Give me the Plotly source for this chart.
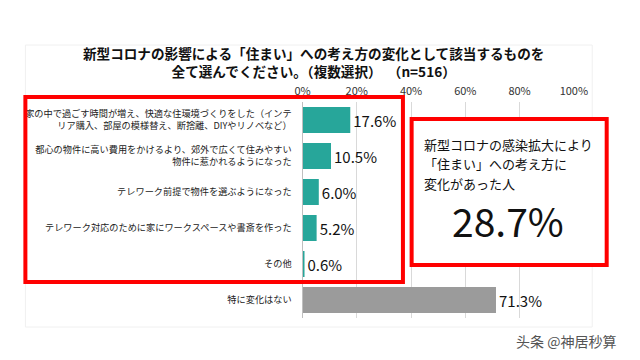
import plotly.graph_objects as go

categories = [
    "家の中で過ごす時間が増え、快適な住環境づくりをした（インテ<br>リア購入、部屋の模様替え、断捨離、DIYやリノベなど）",
    "都心の物件に高い費用をかけるより、郊外で広くて住みやすい<br>物件に惹かれるようになった",
    "テレワーク前提で物件を選ぶようになった",
    "テレワーク対応のために家にワークスペースや書斎を作った",
    "その他",
    "特に変化はない",
]
values = [17.6, 10.5, 6.0, 5.2, 0.6, 71.3]
bar_colors = ["#27A69A", "#27A69A", "#27A69A", "#27A69A", "#27A69A", "#9B9B9B"]
tick_vals = [0, 20, 40, 60, 80, 100]
tick_text = ["0%", "20%", "40%", "60%", "80%", "100%"]

title_text = "新型コロナの影響による「住まい」への考え方の変化として該当するものを<br>全て選んでください。（複数選択）  （n=516）"
box_lines = ["新型コロナの感染拡大により", "「住まい」への考え方に", "変化があった人"]
big_value = "28.7%"
watermark = "头条 @神居秒算"

W, H = 640, 360
def px(x):
    return x / W
def py(y):
    return 1 - y / H

FONT = "Noto Sans CJK JP"

fig = go.Figure()
fig.add_trace(go.Bar(
    x=values,
    y=list(range(len(categories))),
    orientation="h",
    marker=dict(color=bar_colors, line=dict(width=0)),
    text=[f"{v:.1f}%" for v in values],
    textposition="outside",
    textfont=dict(size=15, color="#111111", family=FONT),
    cliponaxis=False,
    hoverinfo="skip",
))

fig.update_layout(
    width=W, height=H,
    margin=dict(l=0, r=0, t=0, b=0),
    paper_bgcolor="white",
    plot_bgcolor="white",
    showlegend=False,
    bargap=0.28,
    font=dict(family=FONT, color="#222222"),
    xaxis=dict(
        domain=[px(305), px(586)],
        range=[0, 100],
        side="top",
        tickvals=tick_vals,
        ticktext=tick_text,
        tickfont=dict(size=11, color="#333333"),
        ticklabelstandoff=4,
        showgrid=True,
        gridcolor="#D9D9D9",
        gridwidth=1,
        zeroline=False,
        showline=False,
        fixedrange=True,
    ),
    yaxis=dict(
        domain=[py(318), py(102)],
        range=[5.5, -0.5],
        tickvals=list(range(len(categories))),
        ticktext=categories,
        tickfont=dict(size=9.2, color="#222222"),
        showgrid=False,
        zeroline=False,
        showline=True,
        linecolor="#BFBFBF",
        linewidth=1,
        ticks="",
        ticklabelstandoff=8,
        fixedrange=True,
    ),
)

# faint chart frame
fig.add_shape(type="rect", xref="paper", yref="paper",
              x0=px(18), x1=px(605), y0=py(327), y1=py(45),
              line=dict(color="#F0F0F0", width=1), layer="below")

fig.add_annotation(
    x=px(316), y=py(62), xref="paper", yref="paper",
    text="<b>" + title_text + "</b>",
    showarrow=False, xanchor="center", yanchor="middle",
    font=dict(size=13.6, color="#111111", family=FONT),
    align="center",
)

# red highlight boxes
fig.add_shape(type="rect", xref="paper", yref="paper",
              x0=px(18), x1=px(409), y0=py(282), y1=py(97),
              line=dict(color="#FF0000", width=4))
fig.add_shape(type="rect", xref="paper", yref="paper",
              x0=px(418), x1=px(620), y0=py(265), y1=py(119),
              line=dict(color="#FF0000", width=4), fillcolor="white")

for i, line in enumerate(box_lines):
    fig.add_annotation(
        x=px(429), y=py(144 + 19.5 * i), xref="paper", yref="paper",
        text=line, showarrow=False, xanchor="left", yanchor="middle",
        align="left", font=dict(size=13, color="#111111", family=FONT),
    )
fig.add_annotation(
    x=px(518), y=py(220), xref="paper", yref="paper",
    text=big_value, showarrow=False, xanchor="center", yanchor="middle",
    font=dict(size=39, color="#111111", family=FONT),
)
fig.add_annotation(
    x=px(632), y=py(341), xref="paper", yref="paper",
    text=watermark, showarrow=False, xanchor="right", yanchor="middle",
    font=dict(size=14, color="#555555", family=FONT),
)

fig.write_html("out.html", config={"displayModeBar": False},
               post_script="document.body.style.margin='0';")
